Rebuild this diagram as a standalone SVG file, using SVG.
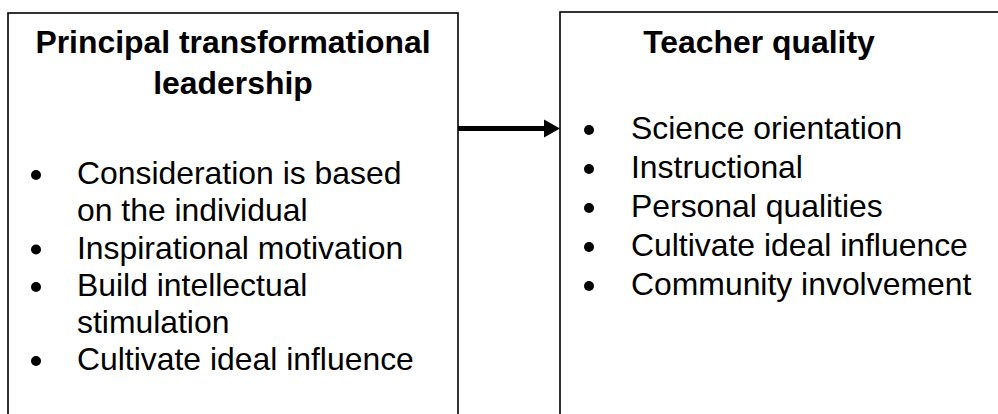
<svg xmlns="http://www.w3.org/2000/svg" width="998" height="414" viewBox="0 0 998 414">
  <style>
    .box { fill: #ffffff; stroke: #000000; stroke-width: 1.6; }
    .title { font-family: "Liberation Sans", Arial, sans-serif; font-weight: bold; font-size: 31.9px; fill: #000000; }
    .item { font-family: "Liberation Sans", Arial, sans-serif; font-size: 31.9px; fill: #000000; }
    .dot { fill: #000000; }
    .link { stroke: #000000; stroke-width: 5; fill: none; }
  </style>
  <rect width="998" height="414" fill="#ffffff"/>

  <!-- Left box: leadership dimensions -->
  <g id="leadership">
    <rect class="box" x="8" y="13" width="450" height="420"/>
    <text class="title" x="233" y="53" text-anchor="middle">Principal transformational</text>
    <text class="title" x="233" y="94" text-anchor="middle">leadership</text>
    <circle class="dot" cx="36" cy="175" r="5"/>
    <text class="item" x="77" y="184">Consideration is based</text>
    <text class="item" x="77" y="221">on the individual</text>
    <circle class="dot" cx="36" cy="249.5" r="5"/>
    <text class="item" x="77" y="258.5">Inspirational motivation</text>
    <circle class="dot" cx="36" cy="287" r="5"/>
    <text class="item" x="77" y="296">Build intellectual</text>
    <text class="item" x="77" y="333">stimulation</text>
    <circle class="dot" cx="36" cy="361" r="5"/>
    <text class="item" x="77" y="370">Cultivate ideal influence</text>
  </g>

  <!-- Right box: teacher quality dimensions -->
  <g id="teacher-quality">
    <rect class="box" x="560" y="12" width="460" height="420"/>
    <text class="title" x="759" y="53" text-anchor="middle">Teacher quality</text>
    <circle class="dot" cx="589" cy="130" r="5"/>
    <text class="item" x="631" y="138.5">Science orientation</text>
    <circle class="dot" cx="589" cy="169" r="5"/>
    <text class="item" x="631" y="177.5">Instructional</text>
    <circle class="dot" cx="589" cy="208" r="5"/>
    <text class="item" x="631" y="216.5">Personal qualities</text>
    <circle class="dot" cx="589" cy="247" r="5"/>
    <text class="item" x="631" y="255.5">Cultivate ideal influence</text>
    <circle class="dot" cx="589" cy="286" r="5"/>
    <text class="item" x="631" y="294.5">Community involvement</text>
  </g>

  <!-- Connector -->
  <g id="connectors">
    <line class="link" x1="458" y1="128.5" x2="546" y2="128.5"/>
    <path d="M544,119.5 L560,128.5 L544,137.5 Z" fill="#000000"/>
  </g>
</svg>
